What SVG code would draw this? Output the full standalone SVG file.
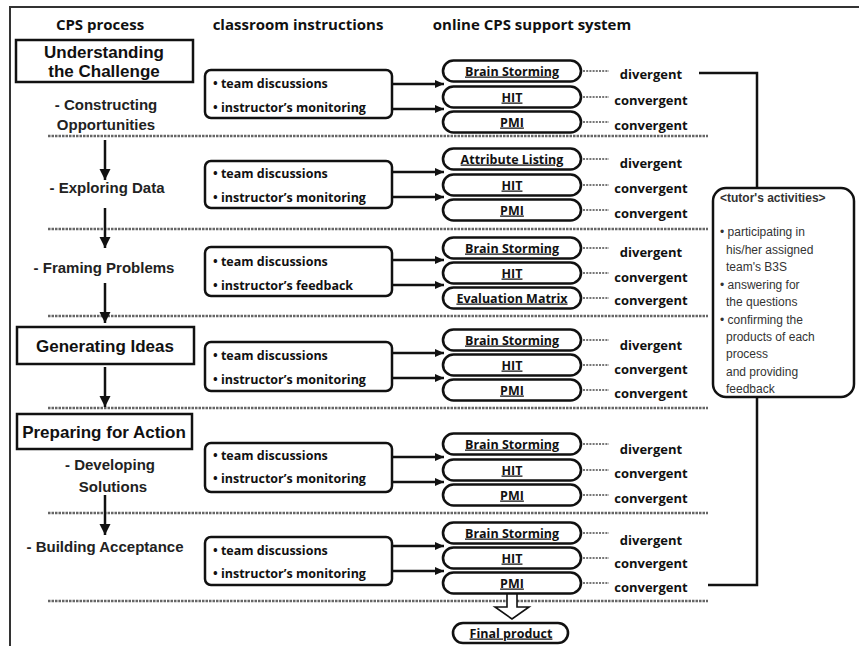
<svg xmlns="http://www.w3.org/2000/svg" width="859" height="646" viewBox="0 0 859 646">
  <style>
    .hdr { font-family: "Open Sans", "Liberation Sans", sans-serif; font-weight: bold; font-size: 15px; fill: #111; text-anchor: middle; }
    .stage { font-family: "Liberation Sans", Arial, sans-serif; font-weight: bold; font-size: 17px; fill: #111; text-anchor: middle; }
    .step { font-family: "Liberation Sans", Arial, sans-serif; font-weight: bold; font-size: 15px; fill: #222; text-anchor: middle; }
    .stagebox { fill: #fff; stroke: #111; stroke-width: 2.5; }
    .cls { fill: #fff; stroke: #111; stroke-width: 2.5; }
    .clstxt { font-family: "Open Sans", "Noto Sans", sans-serif; font-weight: bold; font-size: 12.5px; fill: #111; }
    .pill { fill: #fff; stroke: #111; stroke-width: 2.6; }
    .pilltxt { font-family: "Open Sans", "Noto Sans", sans-serif; font-weight: bold; font-size: 12.5px; fill: #111; text-anchor: middle; text-decoration: underline; }
    .lbl { font-family: "Open Sans", "Noto Sans", sans-serif; font-weight: bold; font-size: 13px; fill: #111; text-anchor: middle; }
    .dots { stroke: #777; stroke-width: 2; stroke-dasharray: 2 1.2; fill: none; }
    .sep { stroke: #666; stroke-width: 2.5; stroke-dasharray: 2.5 1; fill: none; }
    .link { stroke: #111; stroke-width: 2.5; fill: none; }
    .tutor { font-family: "Liberation Sans", Arial, sans-serif; font-size: 12px; fill: #333; }
  </style>
  <defs>
    <marker id="head" markerUnits="userSpaceOnUse" markerWidth="10" markerHeight="10" refX="9" refY="5" orient="auto">
      <path d="M0,1 L9,5 L0,9 Z" fill="#111"/>
    </marker>
    <marker id="headBig" markerUnits="userSpaceOnUse" markerWidth="12" markerHeight="12" refX="11" refY="6" orient="auto">
      <path d="M0,0.5 L11,6 L0,11.5 Z" fill="#111"/>
    </marker>
  </defs>

  <!-- outer frame (top and left edges) -->
  <path d="M10,646 L10,7 L859,7" fill="none" stroke="#333" stroke-width="2"/>

  <!-- column headers -->
  <text class="hdr" x="100" y="30">CPS process</text>
  <text class="hdr" x="298" y="30">classroom instructions</text>
  <text class="hdr" x="532" y="30">online CPS support system</text>

  <!-- section separators -->
  <g id="separators">
    <line class="sep" x1="48" y1="136" x2="708" y2="136"/>
    <line class="sep" x1="48" y1="229" x2="708" y2="229"/>
    <line class="sep" x1="48" y1="316" x2="708" y2="316"/>
    <line class="sep" x1="48" y1="408" x2="708" y2="408"/>
    <line class="sep" x1="48" y1="513" x2="708" y2="513"/>
    <line class="sep" x1="48" y1="601" x2="708" y2="601"/>
  </g>

  <!-- CPS process column -->
  <g id="understanding">
    <rect class="stagebox" x="16" y="40" width="177" height="42"/>
    <text class="stage" x="104" y="58">Understanding</text>
    <text class="stage" x="104" y="77">the Challenge</text>
  </g>
  <g id="constructing">
    <text class="step" x="106" y="110">- Constructing</text>
    <text class="step" x="106" y="130">Opportunities</text>
  </g>
  <g id="exploring">
    <text class="step" x="107" y="193">- Exploring Data</text>
  </g>
  <g id="framing">
    <text class="step" x="104" y="273">- Framing Problems</text>
  </g>
  <g id="generating">
    <rect class="stagebox" x="17" y="327" width="177" height="37"/>
    <text class="stage" x="105" y="352">Generating Ideas</text>
  </g>
  <g id="preparing">
    <rect class="stagebox" x="17" y="414" width="175" height="35"/>
    <text class="stage" x="104" y="438">Preparing for Action</text>
  </g>
  <g id="developing">
    <text class="step" x="110" y="470">- Developing</text>
    <text class="step" x="113" y="492">Solutions</text>
  </g>
  <g id="building">
    <text class="step" x="105" y="552">- Building Acceptance</text>
  </g>

  <!-- classroom instruction boxes -->
  <g id="class1">
    <rect class="cls" x="205" y="70" width="187" height="48" rx="6"/>
    <text class="clstxt" x="213" y="87.5">• team discussions</text>
    <text class="clstxt" x="213" y="112">• instructor’s monitoring</text>
  </g>
  <g id="class2">
    <rect class="cls" x="205" y="161" width="187" height="47" rx="6"/>
    <text class="clstxt" x="213" y="178">• team discussions</text>
    <text class="clstxt" x="213" y="202">• instructor’s monitoring</text>
  </g>
  <g id="class3">
    <rect class="cls" x="205" y="247" width="187" height="49" rx="6"/>
    <text class="clstxt" x="213" y="265.5">• team discussions</text>
    <text class="clstxt" x="213" y="289.5">• instructor’s feedback</text>
  </g>
  <g id="class4">
    <rect class="cls" x="205" y="342" width="187" height="49" rx="6"/>
    <text class="clstxt" x="213" y="359.5">• team discussions</text>
    <text class="clstxt" x="213" y="383.5">• instructor’s monitoring</text>
  </g>
  <g id="class5">
    <rect class="cls" x="205" y="443" width="187" height="49" rx="6"/>
    <text class="clstxt" x="213" y="459.5">• team discussions</text>
    <text class="clstxt" x="213" y="482.5">• instructor’s monitoring</text>
  </g>
  <g id="class6">
    <rect class="cls" x="205" y="537" width="187" height="48" rx="6"/>
    <text class="clstxt" x="213" y="554.5">• team discussions</text>
    <text class="clstxt" x="213" y="577.5">• instructor’s monitoring</text>
  </g>

  <!-- support system tools -->
  <g id="tools1">
    <rect class="pill" x="443" y="60.5" width="138" height="21" rx="10.5"/>
    <text class="pilltxt" x="512" y="75.5">Brain Storming</text>
    <rect class="pill" x="443" y="86.5" width="138" height="21" rx="10.5"/>
    <text class="pilltxt" x="512" y="101.5">HIT</text>
    <rect class="pill" x="443" y="111.5" width="138" height="21" rx="10.5"/>
    <text class="pilltxt" x="512" y="126.5">PMI</text>
  </g>
  <g id="tools2">
    <rect class="pill" x="443" y="148.5" width="138" height="21" rx="10.5"/>
    <text class="pilltxt" x="512" y="163.5">Attribute Listing</text>
    <rect class="pill" x="443" y="174.5" width="138" height="21" rx="10.5"/>
    <text class="pilltxt" x="512" y="189.5">HIT</text>
    <rect class="pill" x="443" y="199.5" width="138" height="21" rx="10.5"/>
    <text class="pilltxt" x="512" y="214.5">PMI</text>
  </g>
  <g id="tools3">
    <rect class="pill" x="443" y="237.5" width="138" height="21" rx="10.5"/>
    <text class="pilltxt" x="512" y="252.5">Brain Storming</text>
    <rect class="pill" x="443" y="262.5" width="138" height="21" rx="10.5"/>
    <text class="pilltxt" x="512" y="277.5">HIT</text>
    <rect class="pill" x="443" y="287.5" width="138" height="21" rx="10.5"/>
    <text class="pilltxt" x="512" y="302.5">Evaluation Matrix</text>
  </g>
  <g id="tools4">
    <rect class="pill" x="443" y="329.5" width="138" height="21" rx="10.5"/>
    <text class="pilltxt" x="512" y="344.5">Brain Storming</text>
    <rect class="pill" x="443" y="354.5" width="138" height="21" rx="10.5"/>
    <text class="pilltxt" x="512" y="369.5">HIT</text>
    <rect class="pill" x="443" y="379.5" width="138" height="21" rx="10.5"/>
    <text class="pilltxt" x="512" y="394.5">PMI</text>
  </g>
  <g id="tools5">
    <rect class="pill" x="443" y="433.5" width="138" height="21" rx="10.5"/>
    <text class="pilltxt" x="512" y="448.5">Brain Storming</text>
    <rect class="pill" x="443" y="459.5" width="138" height="21" rx="10.5"/>
    <text class="pilltxt" x="512" y="474.5">HIT</text>
    <rect class="pill" x="443" y="484.5" width="138" height="21" rx="10.5"/>
    <text class="pilltxt" x="512" y="499.5">PMI</text>
  </g>
  <g id="tools6">
    <rect class="pill" x="443" y="522.5" width="138" height="21" rx="10.5"/>
    <text class="pilltxt" x="512" y="537.5">Brain Storming</text>
    <rect class="pill" x="443" y="547.5" width="138" height="21" rx="10.5"/>
    <text class="pilltxt" x="512" y="562.5">HIT</text>
    <rect class="pill" x="443" y="572.5" width="138" height="21" rx="10.5"/>
    <text class="pilltxt" x="512" y="587.5">PMI</text>
  </g>

  <!-- thinking mode labels -->
  <g id="labels">
    <text class="lbl" x="651" y="78.5">divergent</text>
    <text class="lbl" x="651" y="104.5">convergent</text>
    <text class="lbl" x="651" y="129.5">convergent</text>
    <text class="lbl" x="651" y="167.5">divergent</text>
    <text class="lbl" x="651" y="192.5">convergent</text>
    <text class="lbl" x="651" y="217.5">convergent</text>
    <text class="lbl" x="651" y="256.5">divergent</text>
    <text class="lbl" x="651" y="281.5">convergent</text>
    <text class="lbl" x="651" y="304.5">convergent</text>
    <text class="lbl" x="651" y="349.5">divergent</text>
    <text class="lbl" x="651" y="373.5">convergent</text>
    <text class="lbl" x="651" y="397.5">convergent</text>
    <text class="lbl" x="651" y="453.5">divergent</text>
    <text class="lbl" x="651" y="477.5">convergent</text>
    <text class="lbl" x="651" y="502.5">convergent</text>
    <text class="lbl" x="651" y="544.5">divergent</text>
    <text class="lbl" x="651" y="567.5">convergent</text>
    <text class="lbl" x="651" y="591.5">convergent</text>
  </g>

  <!-- tutor's activities -->
  <g id="tutor">
    <rect x="713" y="188" width="141" height="209" rx="13" fill="#fff" stroke="#111" stroke-width="2.5"/>
    <text class="tutor" x="720" y="202" font-weight="bold" font-size="13" fill="#222">&lt;tutor's activities&gt;</text>
    <text class="tutor" x="720" y="236">• participating  in</text>
    <text class="tutor" x="726" y="254">his/her assigned</text>
    <text class="tutor" x="726" y="271">team's  B3S</text>
    <text class="tutor" x="720" y="289">• answering  for</text>
    <text class="tutor" x="726" y="306">the questions</text>
    <text class="tutor" x="720" y="324">• confirming  the</text>
    <text class="tutor" x="726" y="341">products  of each</text>
    <text class="tutor" x="726" y="358">process</text>
    <text class="tutor" x="726" y="376">and providing</text>
    <text class="tutor" x="726" y="393">feedback</text>
  </g>

  <!-- final product -->
  <g id="final">
    <rect class="pill" x="453" y="623" width="115" height="20" rx="10"/>
    <text class="pilltxt" x="511" y="637.5">Final product</text>
  </g>

  <!-- connectors -->
  <g id="connectors">
    <!-- stage flow arrows -->
    <line class="link" x1="105" y1="140" x2="105" y2="180" marker-end="url(#headBig)"/>
    <line class="link" x1="105" y1="208" x2="105" y2="248" marker-end="url(#headBig)"/>
    <line class="link" x1="105" y1="283" x2="105" y2="323" marker-end="url(#headBig)"/>
    <line class="link" x1="105" y1="367" x2="105" y2="407" marker-end="url(#headBig)"/>
    <line class="link" x1="105" y1="495" x2="105" y2="535" marker-end="url(#headBig)"/>

    <!-- instruction to tool arrows -->
    <line class="link" x1="392" y1="84" x2="444" y2="84" marker-end="url(#head)"/>
    <line class="link" x1="392" y1="109" x2="444" y2="109" marker-end="url(#head)"/>
    <line class="link" x1="392" y1="172" x2="444" y2="172" marker-end="url(#head)"/>
    <line class="link" x1="392" y1="197" x2="444" y2="197" marker-end="url(#head)"/>
    <line class="link" x1="392" y1="260" x2="444" y2="260" marker-end="url(#head)"/>
    <line class="link" x1="392" y1="285" x2="444" y2="285" marker-end="url(#head)"/>
    <line class="link" x1="392" y1="353" x2="444" y2="353" marker-end="url(#head)"/>
    <line class="link" x1="392" y1="378" x2="444" y2="378" marker-end="url(#head)"/>
    <line class="link" x1="392" y1="457" x2="444" y2="457" marker-end="url(#head)"/>
    <line class="link" x1="392" y1="482" x2="444" y2="482" marker-end="url(#head)"/>
    <line class="link" x1="392" y1="546" x2="444" y2="546" marker-end="url(#head)"/>
    <line class="link" x1="392" y1="571" x2="444" y2="571" marker-end="url(#head)"/>

    <!-- tool to mode dotted ties -->
    <path class="dots" d="M583,71 H609 M583,97 H609 M583,122 H609 M583,159 H609 M583,185 H609 M583,210 H609 M583,248 H609 M583,273 H609 M583,298 H609 M583,340 H609 M583,365 H609 M583,390 H609 M583,444 H609 M583,470 H609 M583,495 H609 M583,533 H609 M583,558 H609 M583,583 H609"/>

    <!-- tutor span -->
    <path class="link" d="M699,73 H757 V188"/>
    <path class="link" d="M757,397 V585 H708"/>

    <!-- hollow arrow to final product -->
    <polygon points="507,594 517,594 517,607 529,607 512,619 495,607 507,607" fill="#fff" stroke="#111" stroke-width="1.6"/>
  </g>
</svg>
